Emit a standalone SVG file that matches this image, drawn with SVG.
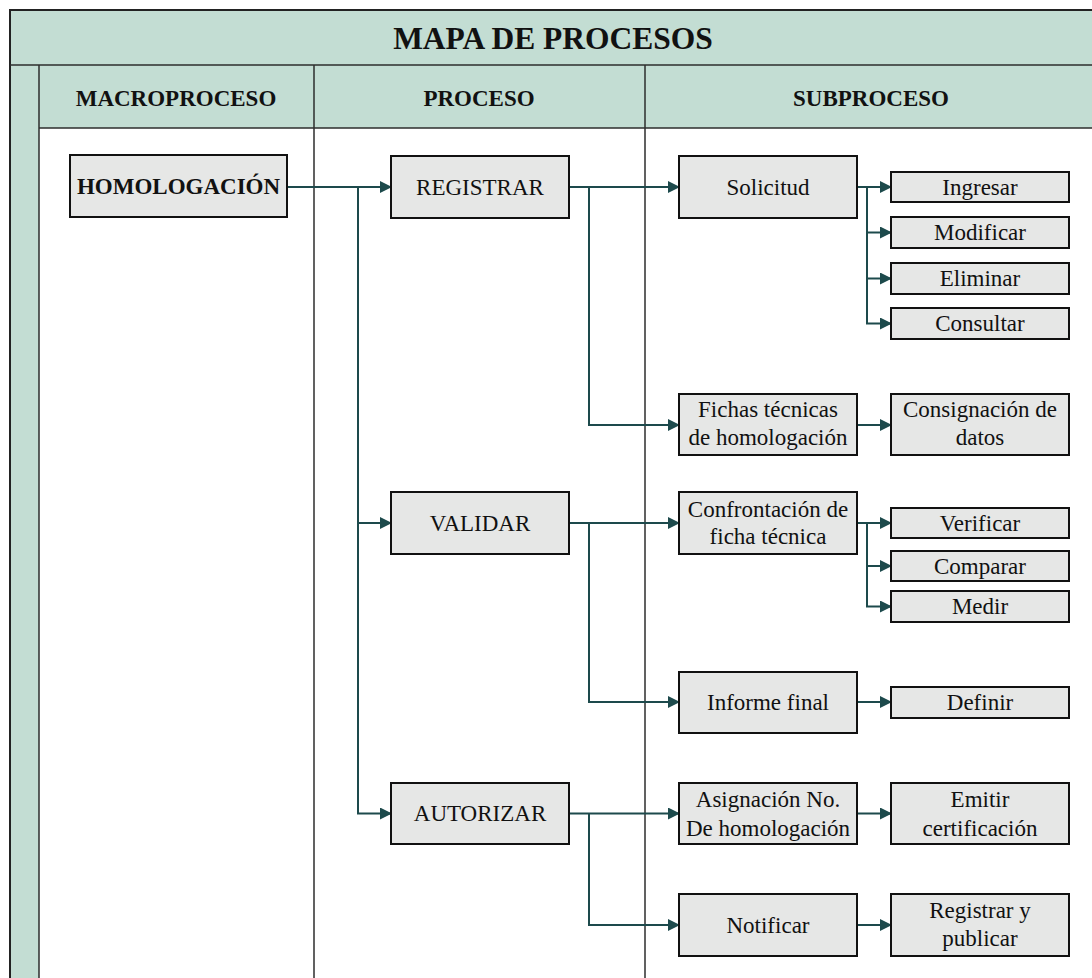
<svg xmlns="http://www.w3.org/2000/svg" width="1092" height="978" viewBox="0 0 1092 978">
  <style>
    .band { fill: #c3ddd3; }
    .grid { stroke: #2e2e2e; stroke-width: 1.5; fill: none; }
    .frame { stroke: #222; stroke-width: 2; fill: none; }
    .box { fill: #e6e7e6; stroke: #111; stroke-width: 2; }
    .t { font-family: "Liberation Serif", "Times New Roman", serif; font-size: 23px; fill: #111; text-anchor: middle; }
    .b { font-weight: bold; }
    .title { font-size: 31.5px; }
    .conn { stroke: #1d4a4c; stroke-width: 2; fill: none; }
  </style>
  <defs>
    <marker id="arrow" markerUnits="userSpaceOnUse" markerWidth="12" markerHeight="12" refX="11" refY="6" orient="auto">
      <path d="M0,0 L12,6 L0,12 z" fill="#1d4a4c"/>
    </marker>
  </defs>

  <rect width="1092" height="978" fill="#ffffff"/>

  <!-- table frame: title band, header row, side strip, columns -->
  <g id="table">
    <rect class="band" x="10" y="10" width="1090" height="55"/>
    <rect class="band" x="38" y="65" width="1062" height="63"/>
    <rect class="band" x="10" y="65" width="29" height="920"/>
    <path class="frame" d="M10,985 V10 H1100"/>
    <path class="grid" d="M10,65 H1100 M39,65 V985 M39,128 H1100 M314,65 V985 M645,65 V985"/>
    <text class="t b title" x="553" y="49">MAPA DE PROCESOS</text>
    <text class="t b" x="176" y="106">MACROPROCESO</text>
    <text class="t b" x="479" y="106">PROCESO</text>
    <text class="t b" x="871" y="106">SUBPROCESO</text>
  </g>

  <!-- connectors -->
  <g id="connectors">
    <path class="conn" d="M287,187 H391" marker-end="url(#arrow)"/>
    <path class="conn" d="M358,187 V813.5 H391" marker-end="url(#arrow)"/>
    <path class="conn" d="M358,523 H391" marker-end="url(#arrow)"/>

    <path class="conn" d="M569,187 H679" marker-end="url(#arrow)"/>
    <path class="conn" d="M589,187 V425 H679" marker-end="url(#arrow)"/>
    <path class="conn" d="M857,187 H891" marker-end="url(#arrow)"/>
    <path class="conn" d="M867,187 V323.5 H891" marker-end="url(#arrow)"/>
    <path class="conn" d="M867,232.5 H891" marker-end="url(#arrow)"/>
    <path class="conn" d="M867,278.5 H891" marker-end="url(#arrow)"/>
    <path class="conn" d="M857,425 H891" marker-end="url(#arrow)"/>

    <path class="conn" d="M569,523 H679" marker-end="url(#arrow)"/>
    <path class="conn" d="M589,523 V702 H679" marker-end="url(#arrow)"/>
    <path class="conn" d="M857,523 H891" marker-end="url(#arrow)"/>
    <path class="conn" d="M867,523 V606.5 H891" marker-end="url(#arrow)"/>
    <path class="conn" d="M867,566 H891" marker-end="url(#arrow)"/>
    <path class="conn" d="M857,702 H891" marker-end="url(#arrow)"/>

    <path class="conn" d="M569,813.5 H679" marker-end="url(#arrow)"/>
    <path class="conn" d="M589,813.5 V925 H679" marker-end="url(#arrow)"/>
    <path class="conn" d="M857,813.5 H891" marker-end="url(#arrow)"/>
    <path class="conn" d="M857,925 H891" marker-end="url(#arrow)"/>
  </g>

  <!-- macroprocess -->
  <g id="homologacion">
    <rect class="box" x="70" y="155" width="217" height="62"/>
    <text class="t b" x="178.5" y="194">HOMOLOGACIÓN</text>
  </g>

  <!-- processes -->
  <g id="registrar">
    <rect class="box" x="391" y="156" width="178" height="62"/>
    <text class="t" x="480" y="195">REGISTRAR</text>
  </g>
  <g id="validar">
    <rect class="box" x="391" y="492" width="178" height="62"/>
    <text class="t" x="480" y="531">VALIDAR</text>
  </g>
  <g id="autorizar">
    <rect class="box" x="391" y="783" width="178" height="61"/>
    <text class="t" x="480" y="821">AUTORIZAR</text>
  </g>

  <!-- subprocesses -->
  <g id="solicitud">
    <rect class="box" x="679" y="156" width="178" height="62"/>
    <text class="t" x="768" y="195">Solicitud</text>
  </g>
  <g id="ingresar">
    <rect class="box" x="891" y="172" width="178" height="30"/>
    <text class="t" x="980" y="195">Ingresar</text>
  </g>
  <g id="modificar">
    <rect class="box" x="891" y="217" width="178" height="31"/>
    <text class="t" x="980" y="240">Modificar</text>
  </g>
  <g id="eliminar">
    <rect class="box" x="891" y="263" width="178" height="31"/>
    <text class="t" x="980" y="286">Eliminar</text>
  </g>
  <g id="consultar">
    <rect class="box" x="891" y="308" width="178" height="31"/>
    <text class="t" x="980" y="331">Consultar</text>
  </g>

  <g id="fichas">
    <rect class="box" x="679" y="394" width="178" height="61"/>
    <text class="t" x="768" y="417">Fichas técnicas</text>
    <text class="t" x="768" y="445">de homologación</text>
  </g>
  <g id="consignacion">
    <rect class="box" x="891" y="394" width="178" height="61"/>
    <text class="t" x="980" y="417">Consignación de</text>
    <text class="t" x="980" y="445">datos</text>
  </g>

  <g id="confrontacion">
    <rect class="box" x="679" y="492" width="178" height="62"/>
    <text class="t" x="768" y="517">Confrontación de</text>
    <text class="t" x="768" y="544">ficha técnica</text>
  </g>
  <g id="verificar">
    <rect class="box" x="891" y="508" width="178" height="30"/>
    <text class="t" x="980" y="531">Verificar</text>
  </g>
  <g id="comparar">
    <rect class="box" x="891" y="551" width="178" height="30"/>
    <text class="t" x="980" y="574">Comparar</text>
  </g>
  <g id="medir">
    <rect class="box" x="891" y="591" width="178" height="31"/>
    <text class="t" x="980" y="614">Medir</text>
  </g>

  <g id="informe">
    <rect class="box" x="679" y="672" width="178" height="61"/>
    <text class="t" x="768" y="710">Informe final</text>
  </g>
  <g id="definir">
    <rect class="box" x="891" y="687" width="178" height="31"/>
    <text class="t" x="980" y="710">Definir</text>
  </g>

  <g id="asignacion">
    <rect class="box" x="679" y="783" width="178" height="61"/>
    <text class="t" x="768" y="807">Asignación No.</text>
    <text class="t" x="768" y="836">De homologación</text>
  </g>
  <g id="emitir">
    <rect class="box" x="891" y="783" width="178" height="61"/>
    <text class="t" x="980" y="807">Emitir</text>
    <text class="t" x="980" y="836">certificación</text>
  </g>

  <g id="notificar">
    <rect class="box" x="679" y="894" width="178" height="62"/>
    <text class="t" x="768" y="933">Notificar</text>
  </g>
  <g id="registrar-publicar">
    <rect class="box" x="891" y="894" width="178" height="62"/>
    <text class="t" x="980" y="918">Registrar y</text>
    <text class="t" x="980" y="946">publicar</text>
  </g>
</svg>
